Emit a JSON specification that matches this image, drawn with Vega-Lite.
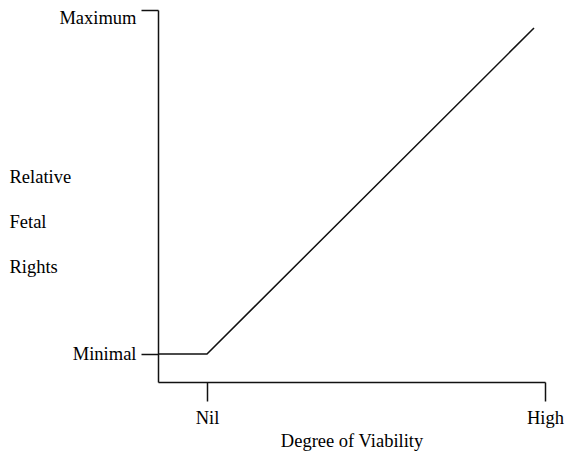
{
  "$schema": "https://vega.github.io/schema/vega-lite/v6.json",
  "autosize": "none",
  "width": 387,
  "height": 372,
  "padding": {"left": 158, "top": 10, "right": 33, "bottom": 73},
  "background": "white",
  "config": {
    "view": {"stroke": null},
    "font": "Liberation Serif",
    "axis": {
      "labelFont": "Liberation Serif",
      "titleFont": "Liberation Serif",
      "labelFontSize": 18.5,
      "titleFontSize": 18.5,
      "labelColor": "#000",
      "titleColor": "#000",
      "titleFontWeight": "normal",
      "domainColor": "#111",
      "tickColor": "#111",
      "domainWidth": 1.5,
      "tickWidth": 1.5,
      "grid": false
    }
  },
  "data": {
    "values": [
      {"viability": 0, "rights": 7.53},
      {"viability": 12.66, "rights": 7.53},
      {"viability": 97.16, "rights": 95.16}
    ]
  },
  "mark": {"type": "line", "color": "#111", "strokeWidth": 1.5},
  "encoding": {
    "x": {
      "field": "viability",
      "type": "quantitative",
      "scale": {"domain": [0, 100], "nice": false, "zero": false},
      "axis": {
        "values": [12.66, 100],
        "labelExpr": "datum.value > 50 ? 'High' : 'Nil'",
        "tickSize": 19,
        "labelPadding": 7,
        "labelFlush": false,
        "labelOverlap": false,
        "title": "Degree of Viability",
        "titleY": 64,
        "titleBaseline": "alphabetic"
      }
    },
    "y": {
      "field": "rights",
      "type": "quantitative",
      "scale": {"domain": [0, 100], "nice": false, "zero": false},
      "axis": {
        "values": [7.53, 100],
        "labelExpr": "datum.value > 50 ? 'Maximum' : 'Minimal'",
        "tickSize": 17,
        "labelPadding": 5,
        "labelFlush": false,
        "labelOverlap": false,
        "labelOffset": {"condition": {"test": "datum.value > 50", "value": 7}, "value": 0},
        "title": ["Relative", "Fetal", "Rights"],
        "titleAngle": 0,
        "titleAlign": "left",
        "titleBaseline": "alphabetic",
        "titleX": -149,
        "titleY": 172,
        "titleLineHeight": 45
      }
    }
  }
}
